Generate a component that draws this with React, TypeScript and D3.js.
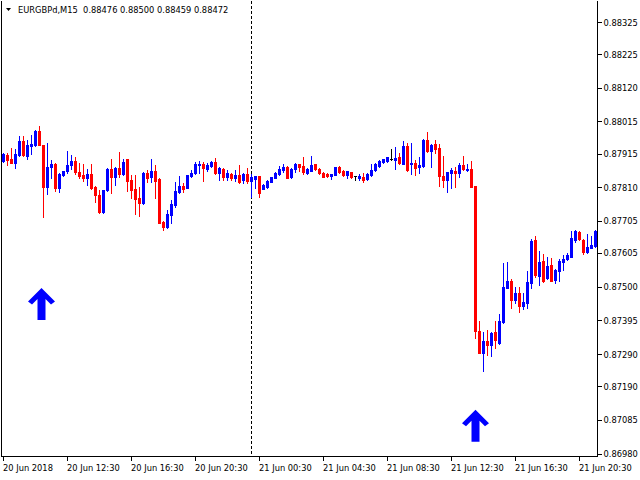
import React from "react";
import * as d3 from "d3";

const headerText = "EURGBPd,M15  0.88476 0.88500 0.88459 0.88472";

const open = [
  0.87891, 0.87910, 0.87898, 0.87887, 0.87910, 0.87954, 0.87908, 0.87939, 0.87942, 0.87984,
  0.87942, 0.87811, 0.87874, 0.87882, 0.87809, 0.87849, 0.87861, 0.87878, 0.87891, 0.87857,
  0.87848, 0.87840, 0.87851, 0.87811, 0.87787, 0.87733, 0.87802, 0.87867, 0.87843, 0.87870,
  0.87852, 0.87897, 0.87834, 0.87804, 0.87776, 0.87761, 0.87854, 0.87842, 0.87861, 0.87835,
  0.87701, 0.87686, 0.87724, 0.87755, 0.87796, 0.87815, 0.87809, 0.87846, 0.87854, 0.87880,
  0.87882, 0.87867, 0.87877, 0.87890, 0.87853, 0.87867, 0.87843, 0.87850, 0.87840, 0.87848,
  0.87831, 0.87852, 0.87829, 0.87837, 0.87844, 0.87806, 0.87812, 0.87827, 0.87840, 0.87851,
  0.87865, 0.87873, 0.87842, 0.87867, 0.87881, 0.87877, 0.87855, 0.87862, 0.87881, 0.87868,
  0.87855, 0.87850, 0.87844, 0.87849, 0.87873, 0.87862, 0.87847, 0.87856, 0.87844, 0.87840,
  0.87843, 0.87836, 0.87849, 0.87863, 0.87877, 0.87890, 0.87893, 0.87897, 0.87896, 0.87903,
  0.87883, 0.87938, 0.87882, 0.87885, 0.87874, 0.87877, 0.87957, 0.87923, 0.87945, 0.87933,
  0.87846, 0.87832, 0.87854, 0.87861, 0.87855, 0.87879, 0.87864, 0.87867, 0.87814, 0.87362,
  0.87294, 0.87331, 0.87318, 0.87359, 0.87323, 0.87390, 0.87497, 0.87518, 0.87459, 0.87479,
  0.87441, 0.87450, 0.87513, 0.87646, 0.87533, 0.87580, 0.87526, 0.87568, 0.87521, 0.87550,
  0.87578, 0.87586, 0.87594, 0.87646, 0.87671, 0.87646, 0.87609, 0.87622, 0.87627,
];

const high = [
  0.87917, 0.87918, 0.87932, 0.87928, 0.87970, 0.87970, 0.87956, 0.87972, 0.87988, 0.88001,
  0.87942, 0.87948, 0.87894, 0.87885, 0.87854, 0.87862, 0.87922, 0.87909, 0.87904, 0.87886,
  0.87882, 0.87868, 0.87881, 0.87813, 0.87800, 0.87800, 0.87870, 0.87899, 0.87874, 0.87920,
  0.87898, 0.87899, 0.87847, 0.87847, 0.87811, 0.87857, 0.87863, 0.87898, 0.87879, 0.87838,
  0.87705, 0.87739, 0.87770, 0.87825, 0.87845, 0.87824, 0.87848, 0.87863, 0.87890, 0.87893,
  0.87890, 0.87885, 0.87893, 0.87900, 0.87874, 0.87869, 0.87864, 0.87854, 0.87864, 0.87879,
  0.87854, 0.87869, 0.87852, 0.87845, 0.87844, 0.87821, 0.87832, 0.87843, 0.87856, 0.87875,
  0.87883, 0.87877, 0.87869, 0.87886, 0.87883, 0.87905, 0.87871, 0.87907, 0.87883, 0.87871,
  0.87857, 0.87853, 0.87852, 0.87874, 0.87875, 0.87864, 0.87862, 0.87858, 0.87844, 0.87850,
  0.87855, 0.87854, 0.87881, 0.87885, 0.87896, 0.87899, 0.87905, 0.87929, 0.87934, 0.87917,
  0.87954, 0.87947, 0.87947, 0.87895, 0.87904, 0.87959, 0.87983, 0.87945, 0.87958, 0.87944,
  0.87908, 0.87858, 0.87870, 0.87872, 0.87884, 0.87907, 0.87882, 0.87892, 0.87814, 0.87393,
  0.87360, 0.87365, 0.87359, 0.87393, 0.87415, 0.87575, 0.87577, 0.87524, 0.87500, 0.87500,
  0.87479, 0.87550, 0.87648, 0.87658, 0.87611, 0.87602, 0.87591, 0.87588, 0.87554, 0.87586,
  0.87599, 0.87604, 0.87674, 0.87677, 0.87674, 0.87648, 0.87665, 0.87658, 0.87677,
];

const low = [
  0.87889, 0.87878, 0.87887, 0.87871, 0.87908, 0.87906, 0.87899, 0.87915, 0.87940, 0.87941,
  0.87718, 0.87790, 0.87840, 0.87798, 0.87795, 0.87844, 0.87853, 0.87868, 0.87851, 0.87840,
  0.87828, 0.87816, 0.87803, 0.87764, 0.87731, 0.87731, 0.87797, 0.87793, 0.87818, 0.87842,
  0.87849, 0.87797, 0.87776, 0.87728, 0.87720, 0.87759, 0.87825, 0.87827, 0.87777, 0.87697,
  0.87678, 0.87682, 0.87700, 0.87749, 0.87793, 0.87794, 0.87807, 0.87843, 0.87850, 0.87855,
  0.87830, 0.87861, 0.87873, 0.87850, 0.87834, 0.87834, 0.87834, 0.87834, 0.87828, 0.87824,
  0.87822, 0.87824, 0.87781, 0.87807, 0.87781, 0.87806, 0.87809, 0.87825, 0.87838, 0.87848,
  0.87856, 0.87838, 0.87838, 0.87859, 0.87860, 0.87851, 0.87852, 0.87861, 0.87864, 0.87851,
  0.87841, 0.87841, 0.87837, 0.87848, 0.87855, 0.87846, 0.87840, 0.87840, 0.87831, 0.87832,
  0.87825, 0.87832, 0.87846, 0.87861, 0.87874, 0.87885, 0.87890, 0.87895, 0.87868, 0.87883,
  0.87881, 0.87861, 0.87851, 0.87848, 0.87854, 0.87874, 0.87921, 0.87873, 0.87918, 0.87814,
  0.87812, 0.87796, 0.87809, 0.87812, 0.87843, 0.87864, 0.87861, 0.87810, 0.87339, 0.87292,
  0.87238, 0.87287, 0.87285, 0.87308, 0.87320, 0.87388, 0.87495, 0.87435, 0.87450, 0.87422,
  0.87429, 0.87435, 0.87497, 0.87531, 0.87505, 0.87516, 0.87523, 0.87519, 0.87513, 0.87519,
  0.87552, 0.87583, 0.87591, 0.87640, 0.87646, 0.87602, 0.87606, 0.87620, 0.87623,
];

const close = [
  0.87915, 0.87896, 0.87887, 0.87915, 0.87954, 0.87909, 0.87943, 0.87945, 0.87985, 0.87943,
  0.87812, 0.87873, 0.87882, 0.87809, 0.87851, 0.87860, 0.87878, 0.87892, 0.87857, 0.87846,
  0.87840, 0.87851, 0.87809, 0.87787, 0.87733, 0.87800, 0.87868, 0.87842, 0.87871, 0.87850,
  0.87890, 0.87829, 0.87802, 0.87774, 0.87762, 0.87854, 0.87840, 0.87861, 0.87830, 0.87700,
  0.87686, 0.87727, 0.87758, 0.87798, 0.87814, 0.87804, 0.87848, 0.87854, 0.87882, 0.87882,
  0.87869, 0.87879, 0.87888, 0.87853, 0.87870, 0.87843, 0.87854, 0.87840, 0.87848, 0.87827,
  0.87850, 0.87829, 0.87842, 0.87844, 0.87793, 0.87816, 0.87829, 0.87841, 0.87854, 0.87867,
  0.87872, 0.87840, 0.87867, 0.87882, 0.87873, 0.87858, 0.87867, 0.87879, 0.87866, 0.87853,
  0.87843, 0.87846, 0.87850, 0.87873, 0.87858, 0.87848, 0.87860, 0.87843, 0.87844, 0.87845,
  0.87832, 0.87851, 0.87865, 0.87881, 0.87892, 0.87897, 0.87903, 0.87897, 0.87902, 0.87886,
  0.87938, 0.87864, 0.87885, 0.87871, 0.87879, 0.87957, 0.87923, 0.87942, 0.87929, 0.87845,
  0.87832, 0.87856, 0.87864, 0.87855, 0.87879, 0.87866, 0.87867, 0.87812, 0.87363, 0.87294,
  0.87331, 0.87318, 0.87356, 0.87334, 0.87393, 0.87499, 0.87518, 0.87459, 0.87479, 0.87440,
  0.87452, 0.87515, 0.87643, 0.87536, 0.87577, 0.87519, 0.87564, 0.87519, 0.87552, 0.87580,
  0.87587, 0.87599, 0.87652, 0.87674, 0.87648, 0.87609, 0.87624, 0.87630, 0.87674,
];

const priceTicks = [
  0.88325, 0.88225, 0.8812, 0.88015, 0.87915, 0.8781, 0.87705,
  0.87605, 0.875, 0.87395, 0.8729, 0.8719, 0.87085, 0.8698,
];

const timeTickBars = [0, 16, 32, 48, 64, 80, 96, 112, 128, 144];
const timeTickLabels = [
  "20 Jun 2018", "20 Jun 12:30", "20 Jun 16:30", "20 Jun 20:30", "21 Jun 00:30",
  "21 Jun 04:30", "21 Jun 08:30", "21 Jun 12:30", "21 Jun 16:30", "21 Jun 20:30",
];

const separatorBars = [62];
const arrowBars = [9.5, 118];
const arrowPrices = [0.87496, 0.87116];

const UP = "#0000FF";
const DOWN = "#FF0000";
const FONT = "DejaVu Sans, Verdana, sans-serif";

export default function App() {
  const W = 640;
  const H = 480;
  const left = 1.5;
  const right = 597.5;
  const bottom = 456.5;

  const x = d3.scaleLinear().domain([0, open.length - 1]).range([3.5, 3.5 + 4 * (open.length - 1)]);
  const y = d3.scaleLinear().domain([0.8698, 0.88325]).range([453.5, 22]);
  const yr = (v: number) => Math.round(y(v));

  const arrowPath = "M0,0 L13.5,13.5 L9.5,16.5 L4,11 L4,32 L-4,32 L-4,11 L-9.5,16.5 L-13.5,13.5 Z";

  return (
    <svg
      width={W}
      height={H}
      style={{ position: "fixed", left: 0, top: 0, background: "#fff" }}
      fontFamily={FONT}
    >
      <rect x={0} y={0} width={W} height={H} fill="#fff" />

      {separatorBars.map((b) => (
        <line
          key={"sep" + b}
          x1={x(b)}
          x2={x(b)}
          y1={1}
          y2={bottom}
          stroke="#000"
          strokeWidth={1}
          strokeDasharray="3,2"
          shapeRendering="crispEdges"
        />
      ))}

      <g shapeRendering="crispEdges">
        {open.map((o, i) => {
          const c = close[i];
          const color = c > o ? UP : c < o ? DOWN : "#000";
          const xc = x(i);
          const hy = yr(high[i]);
          const ly = yr(low[i]);
          const top = yr(Math.max(o, c));
          const bot = yr(Math.min(o, c));
          return (
            <g key={i}>
              <rect x={xc - 0.5} y={hy} width={1} height={Math.max(1, ly - hy + 1)} fill={color} />
              <rect x={xc - 1.5} y={top} width={3} height={Math.max(1, bot - top + 1)} fill={color} />
            </g>
          );
        })}
      </g>

      {arrowBars.map((b, i) => (
        <path
          key={"arr" + i}
          d={arrowPath}
          transform={`translate(${x(b)},${y(arrowPrices[i])})`}
          fill={UP}
        />
      ))}

      <g shapeRendering="crispEdges" stroke="#000" strokeWidth={1}>
        <line x1={left} x2={left} y1={1} y2={bottom} />
        <line x1={right} x2={right} y1={1} y2={bottom} />
        <line x1={left} x2={right} y1={bottom} y2={bottom} />
      </g>

      {priceTicks.map((p) => (
        <g key={"pt" + p}>
          <line
            x1={right}
            x2={right + 4}
            y1={Math.round(y(p)) + 0.5}
            y2={Math.round(y(p)) + 0.5}
            stroke="#000"
            shapeRendering="crispEdges"
          />
          <text x={right + 6} y={y(p) + 3.5} fontSize={8.3} fill="#000">
            {p.toFixed(5)}
          </text>
        </g>
      ))}

      {timeTickBars.map((b, i) => (
        <g key={"tt" + b}>
          <line
            x1={x(b)}
            x2={x(b)}
            y1={bottom}
            y2={bottom + 4}
            stroke="#000"
            shapeRendering="crispEdges"
          />
          <text x={x(b) - 0.5} y={471} fontSize={8.3} fill="#000">
            {timeTickLabels[i]}
          </text>
        </g>
      ))}

      <polygon points="6,8 11,8 8.5,11" fill="#000" />
      <text x={18} y={13.3} fontSize={8.3} fill="#000" style={{ whiteSpace: "pre" }}>
        {headerText}
      </text>
    </svg>
  );
}
